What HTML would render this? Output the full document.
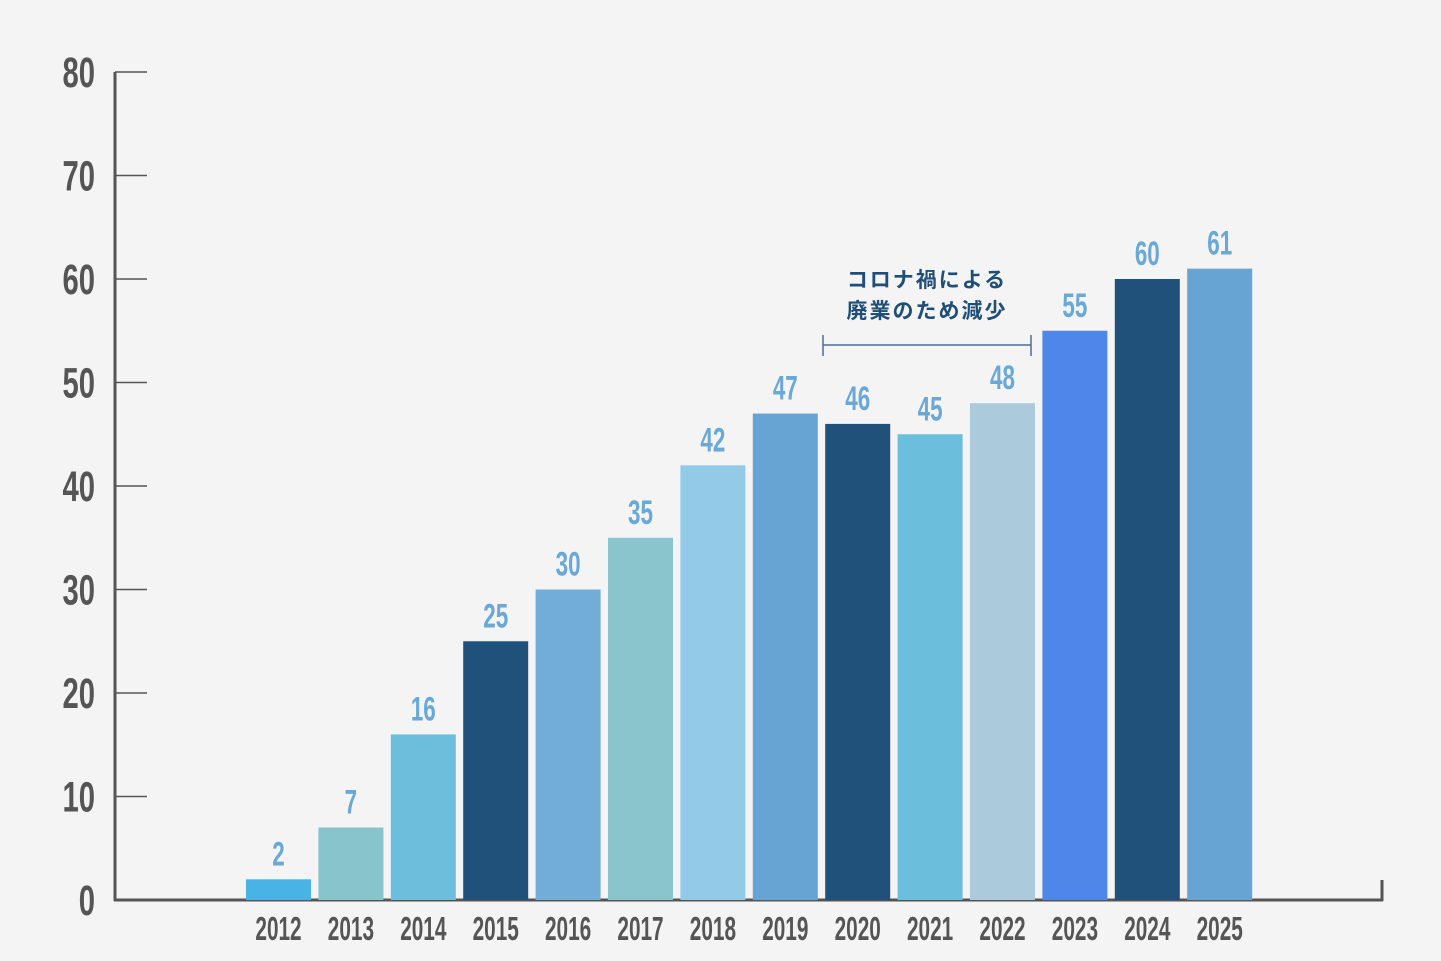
<!DOCTYPE html>
<html><head><meta charset="utf-8">
<style>
html,body{margin:0;padding:0;background:#f4f4f4;}
svg{display:block;}
.num{font-family:"Liberation Sans",sans-serif;font-weight:bold;}
</style></head>
<body>
<svg id="chart" width="1441" height="961" viewBox="0 0 1441 961">
<rect width="1441" height="961" fill="#f4f4f4"/>
<g id="axes"></g>
<g id="bars"></g>
<g id="annot">
<text x="927" y="287" text-anchor="middle" font-family="'Liberation Sans','Noto Sans CJK JP',sans-serif" font-weight="bold" font-size="21" fill="#1f4e79" letter-spacing="2">コロナ禍による</text>
<text x="927" y="318" text-anchor="middle" font-family="'Liberation Sans','Noto Sans CJK JP',sans-serif" font-weight="bold" font-size="21" fill="#1f4e79" letter-spacing="2">廃業のため減少</text>
<line x1="823" y1="345" x2="1031" y2="345" stroke="#4a6f96" stroke-width="1.5"/>
<line x1="823" y1="335" x2="823" y2="356" stroke="#4a6f96" stroke-width="1.5"/>
<line x1="1031" y1="335" x2="1031" y2="356" stroke="#4a6f96" stroke-width="1.5"/>
</g>
</svg>
<script>
const categories=["2012","2013","2014","2015","2016","2017","2018","2019","2020","2021","2022","2023","2024","2025"];
const values=[2,7,16,25,30,35,42,47,46,45,48,55,60,61];
const colors=["#4ab3e6","#88c4cb","#6dbedc","#1f517b","#72acd9","#8ac4cc","#92cae8","#67a4d3","#1f517b","#6cbfdc","#abcadb","#4f86ea","#1f517b","#67a4d3"];
const yTicks=[0,10,20,30,40,50,60,70,80];
const NS="http://www.w3.org/2000/svg";
const y0=900,y80=72;
function y(v){return y0-(y0-y80)*v/80;}
const firstX=246,pitch=72.4,bw=65;
function x(i){return firstX+i*pitch;}
function mk(tag,attrs,parent){const e=document.createElementNS(NS,tag);for(const k in attrs)e.setAttribute(k,attrs[k]);parent.appendChild(e);return e;}
function condText(parent,cx,cy,str,size,fill,anchor,sx){
  const g=mk('g',{transform:`translate(${cx},${cy}) scale(${sx},1)`},parent);
  const t=mk('text',{x:0,y:0,'text-anchor':anchor,'font-size':size,fill:fill,class:'num'},g);
  t.textContent=str;return t;
}
const axes=document.getElementById('axes');
const yl=mk('line',{x1:115,y1:72,x2:115,y2:901,stroke:'#555','stroke-width':3},axes);


const xl=mk('line',{x1:114,y1:900,x2:1383,y2:900,stroke:'#555','stroke-width':3},axes);


mk('line',{x1:1382,y1:880,x2:1382,y2:901,stroke:'#555','stroke-width':3},axes);
yTicks.forEach(v=>{
  if(v>0){const tk=mk('line',{x1:115,y1:y(v),x2:147,y2:y(v),stroke:'#555','stroke-width':1.5},axes);
  
  }
  const t=condText(axes,95,y(v)+15,String(v),43,'#555','end',0.68);
  
  
});
const bars=document.getElementById('bars');
values.forEach((v,i)=>{
  const r=mk('rect',{x:x(i),y:y(v),width:bw,height:y0-y(v),fill:colors[i]},bars);
  
  
  const l=condText(bars,x(i)+bw/2,y(v)-14,String(v),34,'#6aa8d8','middle',0.66);
  
  
  const c=condText(bars,x(i)+bw/2,940,categories[i],33,'#555','middle',0.63);
  
  
});
</script>
</body></html>
